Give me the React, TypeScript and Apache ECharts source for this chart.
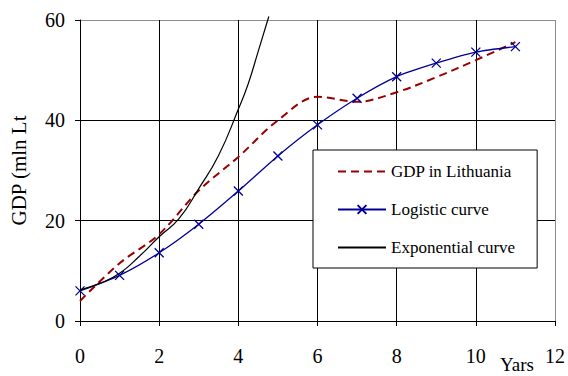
import React, { useEffect, useRef } from "react";
import * as echarts from "echarts";

// Years since start of the period
const years = [0, 1, 2, 3, 4, 5, 6, 7, 8, 9, 10, 11];

// GDP in Lithuania (mln Lt), yearly
const gdpValues = [4.0, 11.5, 17.3, 26.0, 32.7, 40.0, 44.7, 43.7, 45.6, 48.6, 52.0, 55.6];

// Logistic curve fitted to GDP, yearly
const logisticValues = [6.0, 9.1, 13.6, 19.3, 25.9, 32.9, 39.1, 44.4, 48.7, 51.4, 53.6, 54.7];

// Exponential curve, sampled along the fitted curve
const expYears = [0, 0.5, 1, 1.5, 2, 2.5, 3, 3.5, 4, 4.25, 4.5, 4.77];
const expValues = [6.2, 7.5, 9.5, 12.9, 16.8, 20.4, 26.4, 33.0, 42.2, 47.3, 53.7, 60.7];

const xTicks = [0, 2, 4, 6, 8, 10, 12];
const yTicks = [0, 20, 40, 60];

const FONT = '"Liberation Serif", "Times New Roman", serif';
const crossSymbol = "path://M0,0L10,10M10,0L0,10";

export default function App() {
  const ref = useRef<HTMLDivElement>(null);

  useEffect(() => {
    if (!ref.current) return;
    const chart = echarts.init(ref.current, undefined, { renderer: "svg" });

    const xSplitColors = xTicks.map((_, i) => (i === xTicks.length - 1 ? "#8c8c8c" : "#000"));
    const ySplitColors = yTicks.map((_, i) => (i === yTicks.length - 1 ? "#8c8c8c" : "#000"));

    chart.setOption({
      animation: false,
      backgroundColor: "#fff",
      textStyle: { fontFamily: FONT, color: "#000" },
      grid: { left: 73, right: 11, top: 20, bottom: 55 },
      xAxis: {
        type: "value",
        min: xTicks[0],
        max: xTicks[xTicks.length - 1],
        interval: 2,
        axisLine: { show: true, onZero: false, lineStyle: { color: "#000", width: 1 } },
        axisTick: { show: true, length: 5, lineStyle: { color: "#000" } },
        axisLabel: { color: "#000", fontFamily: FONT, fontSize: 20, margin: 25 },
        splitLine: { show: true, lineStyle: { color: xSplitColors, width: 1 } },
      },
      yAxis: {
        type: "value",
        min: yTicks[0],
        max: yTicks[yTicks.length - 1],
        interval: 20,
        name: "GDP (mln Lt",
        nameLocation: "middle",
        nameGap: 51,
        nameTextStyle: { color: "#000", fontFamily: FONT, fontSize: 21 },
        axisLine: { show: true, lineStyle: { color: "#000", width: 1 } },
        axisTick: { show: true, length: 5, lineStyle: { color: "#000" } },
        axisLabel: { color: "#000", fontFamily: FONT, fontSize: 20, margin: 15 },
        splitLine: { show: true, lineStyle: { color: ySplitColors, width: 1 } },
      },
      legend: {
        show: true,
        orient: "vertical",
        left: 313,
        top: 150,
        backgroundColor: "#fff",
        borderColor: "#000",
        borderWidth: 1,
        borderRadius: 0,
        padding: [13, 22, 12, 24],
        itemWidth: 48,
        itemHeight: 11,
        itemGap: 21,
        textStyle: { color: "#000", fontFamily: FONT, fontSize: 17, lineHeight: 17 },
        data: [
          { name: "GDP in Lithuania", itemStyle: { opacity: 0 } },
          { name: "Logistic curve" },
          { name: "Exponential curve", itemStyle: { opacity: 0 } },
        ],
      },
      graphic: [
        {
          type: "text",
          left: 500,
          top: 355,
          style: { text: "Yars", fill: "#000", font: `19px ${FONT}` },
        },
      ],
      series: [
        {
          name: "GDP in Lithuania",
          type: "line",
          data: years.map((x, i) => [x, gdpValues[i]]),
          smooth: 0.35,
          symbol: "none",
          lineStyle: { color: "#990000", width: 2, type: [8, 5] },
          itemStyle: { color: "#990000" },
          z: 3,
        },
        {
          name: "Logistic curve",
          type: "line",
          data: years.map((x, i) => [x, logisticValues[i]]),
          smooth: 0.25,
          symbol: crossSymbol,
          symbolSize: 9,
          showSymbol: true,
          lineStyle: { color: "#000099", width: 1.3 },
          itemStyle: { color: "none", borderColor: "#000099", borderWidth: 1.3 },
          z: 4,
        },
        {
          name: "Exponential curve",
          type: "line",
          data: expYears.map((x, i) => [x, expValues[i]]),
          smooth: 0.5,
          symbol: "none",
          clip: false,
          lineStyle: { color: "#000", width: 1.2 },
          itemStyle: { color: "#000" },
          z: 5,
        },
      ],
    });

    return () => chart.dispose();
  }, []);

  return (
    <div
      ref={ref}
      style={{ position: "fixed", left: 0, top: 0, width: 568, height: 376, background: "#fff" }}
    />
  );
}
